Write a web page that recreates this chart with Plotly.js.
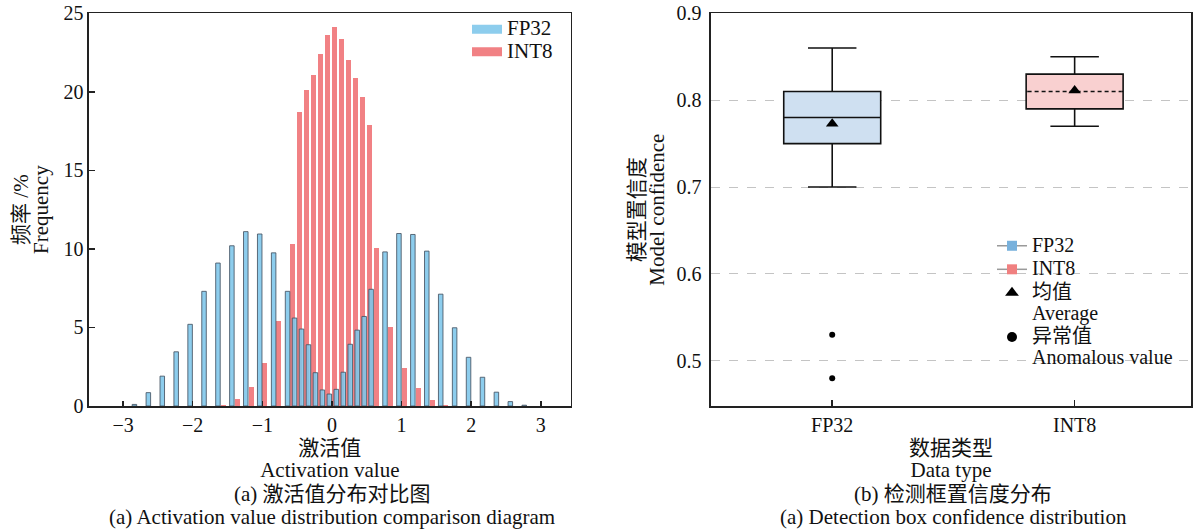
<!DOCTYPE html>
<html><head><meta charset="utf-8">
<script src="https://cdn.plot.ly/plotly-3.0.1.min.js"></script>
<style>html,body{margin:0;padding:0;background:#fff}</style>
</head><body><div id="chart" style="width:1195px;height:531px"></div>
<script>
// ---------- data: (a) activation histogram ----------
const binCenters = [-2.8,-2.6,-2.4,-2.2,-2.0,-1.8,-1.6,-1.4,-1.2,-1.0,-0.8,
  -0.6,-0.5,-0.4,-0.3,-0.2,-0.1,0.0,0.1,0.2,0.3,0.4,0.5,0.6,
  0.8,1.0,1.2,1.4,1.6,1.8,2.0,2.2,2.4,2.6,2.8];
const fp32Freq = [0.1,0.85,1.9,3.45,5.2,7.3,9.1,10.2,11.1,10.95,9.75,
  7.3,5.6,4.9,3.9,2.12,1.02,0.76,1.06,2.15,3.93,4.83,5.7,7.43,
  9.81,10.98,10.92,9.86,7.12,4.98,3.1,1.83,0.88,0.28,0.05];
const int8Freq = [0,0,0,0,0,0,0.06,0.45,1.23,2.76,5.4,
  10.3,18.7,20.1,21.05,22.4,23.6,24.1,23.35,22.05,20.86,19.7,17.87,10.09,
  5.01,2.44,1.12,0.38,0.07,0,0,0,0,0,0];
const histSeries = ['FP32','INT8'];
const histXTicks = [-3,-2,-1,0,1,2,3];
const histYTicks = [0,5,10,15,20,25];

// ---------- data: (b) confidence box plot ----------
const dataTypes = ['FP32','INT8'];
const q1 = [0.75, 0.79];
const medians = [0.78, 0.81];
const q3 = [0.81, 0.83];
const lowerFence = [0.70, 0.77];
const upperFence = [0.86, 0.85];
const means = [0.773, 0.811];
const outlierType = ['FP32','FP32'];
const outlierValues = [0.53, 0.48];
const confTicks = [0.5,0.6,0.7,0.8,0.9];

// ---------- style ----------
const FONT = "'Liberation Serif','Times New Roman','Noto Sans CJK SC',serif";
const W = 1195, H = 531;
const px = v => v / W;
const py = v => 1 - v / H;
const big = s => '<span style="font-size:21px">' + s + '</span>';
const leg = s => '<span style="font-size:20px">' + s + '</span>';
const AX = '#222';
const BOXW = 0.4;
const pos = dataTypes.map((d, i) => i);
const posOf = name => dataTypes.indexOf(name);
const barFill = ['rgba(125,198,235,0.88)', 'rgba(240,118,122,0.92)'];

const traces = [];
// INT8 bars underneath, FP32 on top
traces.push({
  type:'bar', x: binCenters, y: int8Freq, name: histSeries[1],
  offset: 0.002, width: 0.072,
  marker:{color: barFill[1], line:{width:0}},
  xaxis:'x', yaxis:'y', showlegend:false
});
traces.push({
  type:'bar', x: binCenters, y: fp32Freq, name: histSeries[0],
  offset: -0.07, width: 0.065,
  marker:{color: barFill[0], line:{color:'rgba(70,85,100,0.85)', width:1}},
  xaxis:'x', yaxis:'y', showlegend:false
});
// legend patches for (a)
histSeries.forEach((s, i) => {
  traces.push({
    type:'scatter', mode:'lines', x:[null], y:[null], name: big(s),
    line:{color: barFill[i], width:9}, xaxis:'x', yaxis:'y', legend:'legend'
  });
});

const boxFill = ['#cfe0f1', '#f9d0d0'];
const legendSq = ['#78b1dc', '#f08080'];
dataTypes.forEach((d, i) => {
  traces.push({
    type:'box', x:[pos[i]], q1:[q1[i]], median:[medians[i]], q3:[q3[i]],
    lowerfence:[lowerFence[i]], upperfence:[upperFence[i]], name: d,
    width: BOXW, whiskerwidth: 0.5, fillcolor: boxFill[i],
    line:{color:'#111', width:1.6}, boxpoints:false, showlegend:false,
    xaxis:'x2', yaxis:'y2', hoverinfo:'skip'
  });
});
// INT8 median drawn dashed: cover the solid median then dash it
const iInt8 = posOf('INT8');
traces.push({
  type:'scatter', mode:'lines', x:[iInt8 - BOXW/2 + 0.006, iInt8 + BOXW/2 - 0.006],
  y:[medians[iInt8], medians[iInt8]], line:{color:boxFill[iInt8], width:3},
  showlegend:false, xaxis:'x2', yaxis:'y2', hoverinfo:'skip'
});
traces.push({
  type:'scatter', mode:'lines', x:[iInt8 - BOXW/2 + 0.006, iInt8 + BOXW/2 - 0.006],
  y:[medians[iInt8], medians[iInt8]], line:{color:'#111', width:1.6, dash:'4px,3px'},
  showlegend:false, xaxis:'x2', yaxis:'y2', hoverinfo:'skip'
});
// means
traces.push({
  type:'scatter', mode:'markers', x: pos, y: means,
  marker:{symbol:'triangle-up', size:11, color:'#000'},
  showlegend:false, xaxis:'x2', yaxis:'y2'
});
// outliers
traces.push({
  type:'scatter', mode:'markers', x: outlierType.map(posOf), y: outlierValues,
  marker:{symbol:'circle', size:6, color:'#000'},
  showlegend:false, xaxis:'x2', yaxis:'y2'
});
// legend entries for (b)
dataTypes.forEach((d, i) => {
  traces.push({
    type:'scatter', mode:'lines+markers', x:[null], y:[null], name: leg(d),
    line:{color:'#9a9a9a', width:1.5}, marker:{symbol:'square', size:10, color:legendSq[i]},
    xaxis:'x2', yaxis:'y2', legend:'legend2'
  });
});
traces.push({
  type:'scatter', mode:'markers', x:[null], y:[null], name: leg('均值') + '<br>' + leg('Average'),
  marker:{symbol:'triangle-up', size:12, color:'#000'}, xaxis:'x2', yaxis:'y2', legend:'legend2'
});
traces.push({
  type:'scatter', mode:'markers', x:[null], y:[null], name: leg('异常值') + '<br>' + leg('Anomalous value'),
  marker:{symbol:'circle', size:10, color:'#000'}, xaxis:'x2', yaxis:'y2', legend:'legend2'
});

const axBase = {
  showline:true, linecolor:AX, linewidth:1.6, mirror:true, zeroline:false,
  ticks:'inside', tickcolor:AX, tickwidth:1.5, ticklen:5,
  tickfont:{family:FONT, size:20, color:'#111'}
};
const yDom = [1 - 406/H, 1 - 13.3/H];

const annotations = [];
const capL = ['(a) 激活值分布对比图', '(a) Activation value distribution comparison diagram'];
const capR = ['(b) 检测框置信度分布', '(a) Detection box confidence distribution'];
const capY = [494, 517];
[[capL, 332], [capR, 953]].forEach(([cap, cx]) => {
  cap.forEach((t, k) => {
    annotations.push({xref:'paper', yref:'paper', x: px(cx), y: py(capY[k]), text: t,
      showarrow:false, xanchor:'center', yanchor:'middle', font:{family:FONT, size:21, color:'#111'}});
  });
});

const layout = {
  width: W, height: H, margin:{l:0, r:0, t:0, b:0},
  paper_bgcolor:'#fff', plot_bgcolor:'#fff',
  font:{family:FONT, color:'#111'},
  barmode:'overlay', bargap:0,
  xaxis: Object.assign({}, axBase, {
    domain:[px(89), px(570.7)], range:[-3.49, 3.43], tickvals: histXTicks, showgrid:false,
    anchor:'y',
    title:{text: big('激活值') + '<br>' + big('Activation value'), font:{family:FONT, size:17, color:'#111'}, standoff: 8}
  }),
  yaxis: Object.assign({}, axBase, {
    domain: yDom, range:[0, 25], tickvals: histYTicks, showgrid:false, ticklen:6, anchor:'x',
    title:{text: big('频率 /%') + '<br>' + big('Frequency'), font:{family:FONT, size:15.5, color:'#111'}, standoff: 11}
  }),
  xaxis2: Object.assign({}, axBase, {
    domain:[px(711), px(1191)], range:[-0.5, 1.48], tickvals: pos, ticktext: dataTypes, showgrid:false,
    anchor:'y2', ticklen:6,
    title:{text: big('数据类型') + '<br>' + big('Data type'), font:{family:FONT, size:17, color:'#111'}, standoff: 8}
  }),
  yaxis2: Object.assign({}, axBase, {
    domain: yDom, range:[0.448, 0.9], tickvals: confTicks, tickformat:'.1f', anchor:'x2',
    ticks:'', showgrid:true, gridcolor:'#c4c4c4', gridwidth:1, griddash:'dash', ticklabelstandoff: 4,
    title:{text: big('模型置信度') + '<br>' + big('Model confidence'), font:{family:FONT, size:15.5, color:'#111'}, standoff: 8}
  }),
  legend:{x: px(467), y: py(13), xanchor:'left', yanchor:'top', bgcolor:'rgba(0,0,0,0)',
    font:{family:FONT, size:15, color:'#111'}, traceorder:'normal', itemwidth:30},
  legend2:{x: px(992), y: py(229), xanchor:'left', yanchor:'top', bgcolor:'rgba(0,0,0,0)',
    font:{family:FONT, size:15.8, color:'#111'}, valign:'top', itemwidth:30, tracegroupgap:0},
  annotations: annotations,
  showlegend: true
};

Plotly.newPlot('chart', traces, layout, {displayModeBar:false, staticPlot:true});
</script>
</body></html>
